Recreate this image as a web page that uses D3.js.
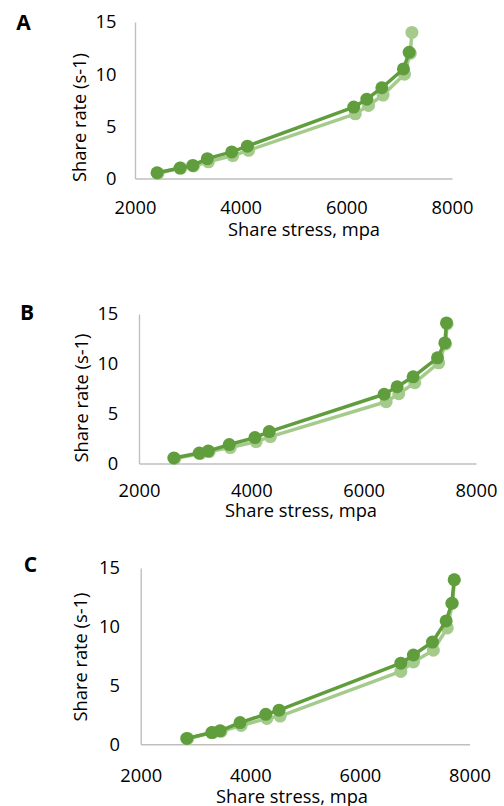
<!DOCTYPE html>
<html>
<head>
<meta charset="utf-8">
<script src="https://cdn.jsdelivr.net/npm/d3@7/dist/d3.min.js"></script>
<style>
  html, body { margin: 0; padding: 0; background: #fff; }
  svg { display: block; }
  text { font-family: "Open Sans", "Liberation Sans", sans-serif; fill: #000; }
</style>
</head>
<body>
<svg id="chart" width="504" height="806"></svg>
<script>
// ---- Data ----
const panelLabels = ["A", "B", "C"];
const xTicks = [2000, 4000, 6000, 8000];
const yTicks = [0, 5, 10, 15];
const xTitle = "Share stress, mpa";
const yTitle = "Share rate (s-1)";

// Panel A
const aDarkX  = [2417, 2852, 3093, 3369, 3831, 4127, 6140, 6388, 6672, 7081, 7189];
const aDarkY  = [0.55, 1.0, 1.25, 1.9, 2.55, 3.1, 6.85, 7.6, 8.7, 10.5, 12.1];
const aLightX = [2435, 2870, 3110, 3390, 3850, 4150, 6170, 6420, 6695, 7100, 7210, 7241];
const aLightY = [0.5, 1.0, 1.2, 1.6, 2.2, 2.7, 6.2, 7.0, 8.0, 10.0, 12.0, 14.0];

// Panel B
const bDarkX  = [2620, 3073, 3233, 3607, 4064, 4319, 6365, 6596, 6881, 7315, 7445, 7475];
const bDarkY  = [0.55, 1.05, 1.25, 1.9, 2.6, 3.2, 6.95, 7.7, 8.7, 10.6, 12.1, 14.1];
const bLightX = [2640, 3090, 3250, 3625, 4085, 4340, 6400, 6625, 6910, 7335, 7460, 7485];
const bLightY = [0.5, 1.0, 1.2, 1.6, 2.2, 2.7, 6.2, 7.0, 8.1, 10.1, 12.0, 14.0];

// Panel C
const cDarkX  = [2840, 3296, 3448, 3813, 4282, 4525, 6747, 6977, 7324, 7574, 7678, 7720];
const cDarkY  = [0.5, 1.0, 1.15, 1.85, 2.55, 2.9, 6.9, 7.6, 8.7, 10.5, 12.0, 14.0];
const cLightX = [2860, 3316, 3468, 3833, 4302, 4545, 6747, 6977, 7340, 7595, 7690, 7725];
const cLightY = [0.5, 1.0, 1.1, 1.6, 2.2, 2.4, 6.2, 7.0, 8.0, 9.9, 12.0, 14.0];

const seriesX = [[aLightX, aDarkX], [bLightX, bDarkX], [cLightX, cDarkX]];
const seriesY = [[aLightY, aDarkY], [bLightY, bDarkY], [cLightY, cDarkY]];

// ---- Layout / style ----
const colors = ["#A5CB8C", "#609D3D"];
const fs = 18.3;
const layout = [
  { x0: 135,   x1: 452,   yb: 178.5, yt: 22,  xPad: 22.5, yPad: 18.5,
    lab: [23.5, 30], xt: [304, 236], yt2: [80, 117.5] },
  { x0: 139,   x1: 476,   yb: 463.5, yt: 314, xPad: 20.5, yPad: 20.7,
    lab: [27, 319.5], xt: [301, 516.5], yt2: [82, 398] },
  { x0: 140.7, x1: 469.5, yb: 744.3, yt: 568, xPad: 24.7, yPad: 20.7,
    lab: [30.5, 571.5], xt: [292, 803], yt2: [81, 657] }
];

const svg = d3.select("#chart");

layout.forEach((L, i) => {
  const g = svg.append("g");
  const x = d3.scaleLinear().domain([2000, 8000]).range([L.x0, L.x1]);
  const y = d3.scaleLinear().domain([0, 15]).range([L.yb, L.yt]);

  // axes
  const gx = g.append("g").attr("transform", `translate(0,${L.yb})`)
    .call(d3.axisBottom(x).tickValues(xTicks).tickSize(0).tickPadding(L.xPad).tickFormat(d3.format("d")));
  const gy = g.append("g").attr("transform", `translate(${L.x0},0)`)
    .call(d3.axisLeft(y).tickValues(yTicks).tickSize(0).tickPadding(L.yPad).tickFormat(d3.format("d")));
  [gx, gy].forEach(a => {
    a.select(".domain").attr("stroke", "#BFBFBF").attr("stroke-width", 1.4);
    a.selectAll("text").attr("font-size", fs).attr("font-family", null).attr("fill", "#000");
    a.attr("font-family", null).attr("font-size", null);
  });

  // series: light first, dark on top
  [0, 1].forEach(s => {
    const pts = seriesX[i][s].map((v, k) => [v, seriesY[i][s][k]]);
    g.append("path")
      .datum(pts)
      .attr("fill", "none")
      .attr("stroke", colors[s])
      .attr("stroke-width", 3.5)
      .attr("stroke-linejoin", "round")
      .attr("d", d3.line().x(d => x(d[0])).y(d => y(d[1])));
    g.selectAll(null)
      .data(pts)
      .enter().append("circle")
      .attr("cx", d => x(d[0]))
      .attr("cy", d => y(d[1]))
      .attr("r", 6.5)
      .attr("fill", colors[s]);
  });

  // titles
  g.append("text")
    .attr("x", L.xt[0]).attr("y", L.xt[1])
    .attr("text-anchor", "middle")
    .attr("font-size", fs)
    .text(xTitle);
  g.append("text")
    .attr("transform", `translate(${L.yt2[0]},${L.yt2[1]}) rotate(-90)`)
    .attr("text-anchor", "middle")
    .attr("dy", "0.35em")
    .attr("font-size", fs)
    .text(yTitle);

  // panel letter
  g.append("text")
    .attr("x", L.lab[0]).attr("y", L.lab[1])
    .attr("text-anchor", "middle")
    .attr("font-size", 21)
    .attr("font-weight", "bold")
    .text(panelLabels[i]);
});
</script>
</body>
</html>
